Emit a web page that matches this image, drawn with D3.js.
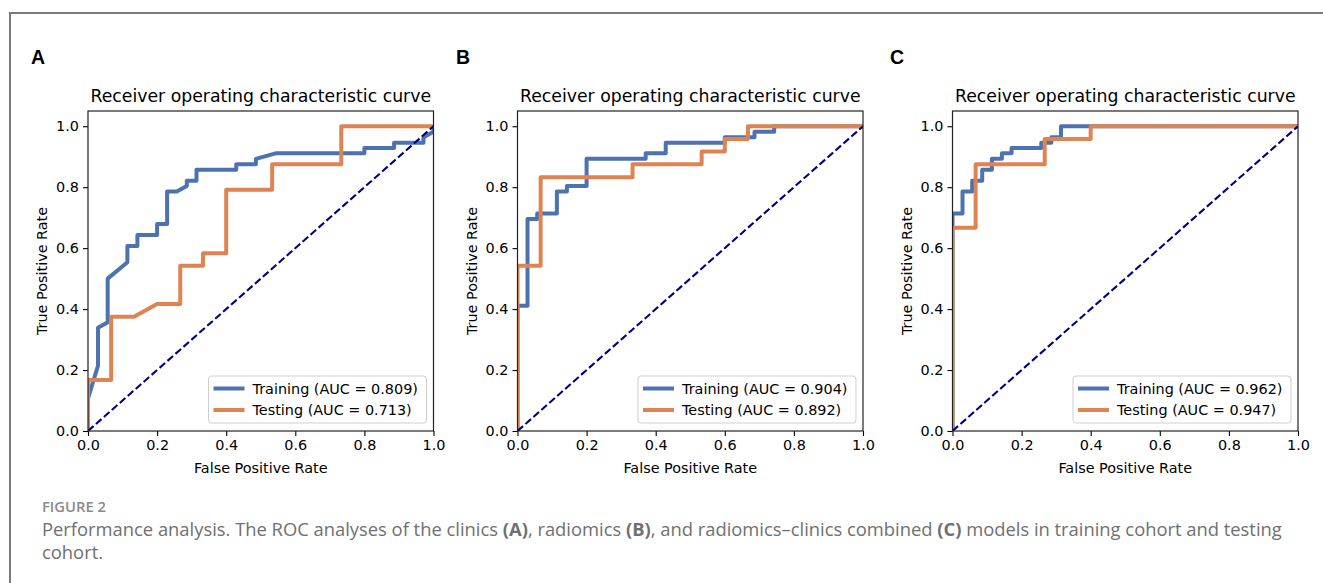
<!DOCTYPE html>
<html>
<head>
<meta charset="utf-8">
<script src="https://cdn.jsdelivr.net/npm/d3@7"></script>
<style>
    body { margin: 0; background: #fff; }
    svg { display: block; }
    .tick text { font-family: "DejaVu Sans", sans-serif; font-size: 14.4px; fill: #000; }
    .tick line { stroke: #000; stroke-width: 1.1px; }
    .domain { display: none; }
</style>
</head>
<body>
<svg id="chart" width="1323" height="583"></svg>
<script>
// ROC points, [fpr, tpr]
const trainA = [[0, 0], [0, 0.107], [0.029, 0.214], [0.029, 0.339], [0.057, 0.357], [0.057, 0.5],
    [0.114, 0.554], [0.114, 0.607], [0.143, 0.607], [0.143, 0.643], [0.2, 0.643], [0.2, 0.679],
    [0.229, 0.679], [0.229, 0.786], [0.257, 0.786], [0.286, 0.804], [0.286, 0.821], [0.314, 0.821],
    [0.314, 0.857], [0.429, 0.857], [0.429, 0.875], [0.486, 0.875], [0.486, 0.893], [0.543, 0.911],
    [0.8, 0.911], [0.8, 0.929], [0.886, 0.929], [0.886, 0.946], [0.971, 0.946], [0.971, 0.964],
    [1, 0.982], [1, 1]];
const testA = [[0, 0], [0, 0.167], [0.067, 0.167], [0.067, 0.375], [0.133, 0.375], [0.2, 0.417],
    [0.267, 0.417], [0.267, 0.542], [0.333, 0.542], [0.333, 0.583], [0.4, 0.583], [0.4, 0.792],
    [0.533, 0.792], [0.533, 0.875], [0.733, 0.875], [0.733, 1], [1, 1]];

const trainB = [[0, 0], [0, 0.411], [0.029, 0.411], [0.029, 0.696], [0.057, 0.696], [0.057, 0.714],
    [0.114, 0.714], [0.114, 0.786], [0.143, 0.786], [0.143, 0.804], [0.2, 0.804], [0.2, 0.893],
    [0.371, 0.893], [0.371, 0.911], [0.429, 0.911], [0.429, 0.946], [0.6, 0.946], [0.6, 0.964],
    [0.686, 0.964], [0.686, 0.982], [0.743, 0.982], [0.743, 1], [1, 1]];
const testB = [[0, 0], [0, 0.542], [0.067, 0.542], [0.067, 0.833], [0.333, 0.833], [0.333, 0.875],
    [0.533, 0.875], [0.533, 0.917], [0.6, 0.917], [0.6, 0.958], [0.667, 0.958], [0.667, 1], [1, 1]];

const trainC = [[0, 0], [0, 0.714], [0.029, 0.714], [0.029, 0.786], [0.057, 0.786], [0.057, 0.821],
    [0.086, 0.821], [0.086, 0.857], [0.114, 0.857], [0.114, 0.893], [0.143, 0.893], [0.143, 0.911],
    [0.171, 0.911], [0.171, 0.929], [0.257, 0.929], [0.257, 0.946], [0.286, 0.946], [0.286, 0.964],
    [0.314, 0.964], [0.314, 1], [1, 1]];
const testC = [[0, 0], [0, 0.667], [0.067, 0.667], [0.067, 0.875], [0.267, 0.875], [0.267, 0.958],
    [0.4, 0.958], [0.4, 1], [1, 1]];

const panelLetters = ["A", "B", "C"];
const aucTrain = ["0.809", "0.904", "0.962"];
const aucTest = ["0.713", "0.892", "0.947"];
const tickValues = [0, 0.2, 0.4, 0.6, 0.8, 1.0];

const panels = [
    { letter: panelLetters[0], train: trainA, test: testA, aucTrain: aucTrain[0], aucTest: aucTest[0], left: 88, letterX: 31 },
    { letter: panelLetters[1], train: trainB, test: testB, aucTrain: aucTrain[1], aucTest: aucTest[1], left: 517.5, letterX: 456 },
    { letter: panelLetters[2], train: trainC, test: testC, aucTrain: aucTrain[2], aucTest: aucTest[2], left: 952.5, letterX: 890 }
];

const blue = "#4C72B0";
const orange = "#DD8452";
const plotW = 345.5;
const plotTop = 111, plotBottom = 431;

const svg = d3.select("#chart");

// frame of the figure
svg.append("path")
    .attr("d", "M10,583 L10,13 L1323,13")
    .attr("fill", "none")
    .attr("stroke", "#7a7a7a")
    .attr("stroke-width", 2);

panels.forEach((p, i) => {
    const x = d3.scaleLinear().domain([0, 1]).range([p.left, p.left + plotW]);
    const y = d3.scaleLinear().domain([0, 1.05]).range([plotBottom, plotTop]);

    const g = svg.append("g");

    svg.append("text")
        .attr("x", p.letterX)
        .attr("y", 64)
        .style("font-family", "'Liberation Sans', Arial, sans-serif")
        .style("font-weight", "bold")
        .style("font-size", "19.5px")
        .text(p.letter);

    g.append("clipPath").attr("id", "clip" + i)
        .append("rect")
        .attr("x", x(0)).attr("y", plotTop)
        .attr("width", plotW).attr("height", plotBottom - plotTop);

    const plot = g.append("g").attr("clip-path", `url(#clip${i})`);

    const line = d3.line().x(d => x(d[0])).y(d => y(d[1]));

    plot.append("path")
        .datum(p.train)
        .attr("d", line)
        .attr("fill", "none")
        .attr("stroke", blue)
        .attr("stroke-width", 4)
        .attr("stroke-linejoin", "round");

    plot.append("path")
        .datum(p.test)
        .attr("d", line)
        .attr("fill", "none")
        .attr("stroke", orange)
        .attr("stroke-width", 4)
        .attr("stroke-linejoin", "round");

    plot.append("path")
        .datum([[0, 0], [1, 1]])
        .attr("d", line)
        .attr("fill", "none")
        .attr("stroke", "#000080")
        .attr("stroke-width", 2.1)
        .attr("stroke-dasharray", "7.4,3.2");

    // axes
    g.append("g")
        .attr("transform", `translate(0,${plotBottom})`)
        .call(d3.axisBottom(x).tickValues(tickValues).tickFormat(d3.format(".1f")).tickSize(5).tickPadding(4));
    g.append("g")
        .attr("transform", `translate(${x(0)},0)`)
        .call(d3.axisLeft(y).tickValues(tickValues).tickFormat(d3.format(".1f")).tickSize(5).tickPadding(4));

    g.append("rect")
        .attr("x", x(0)).attr("y", plotTop)
        .attr("width", plotW).attr("height", plotBottom - plotTop)
        .attr("fill", "none")
        .attr("stroke", "#222")
        .attr("stroke-width", 1.2);

    g.append("text")
        .attr("x", x(0.5))
        .attr("y", 102)
        .attr("text-anchor", "middle")
        .style("font-family", "'DejaVu Sans', sans-serif")
        .style("font-size", "17.3px")
        .text("Receiver operating characteristic curve");

    g.append("text")
        .attr("x", x(0.5))
        .attr("y", 473)
        .attr("text-anchor", "middle")
        .style("font-family", "'DejaVu Sans', sans-serif")
        .style("font-size", "14.4px")
        .text("False Positive Rate");

    g.append("text")
        .attr("transform", `translate(${x(0) - 41},${(plotTop + plotBottom) / 2}) rotate(-90)`)
        .attr("text-anchor", "middle")
        .style("font-family", "'DejaVu Sans', sans-serif")
        .style("font-size", "14.4px")
        .text("True Positive Rate");

    // legend
    const lx = x(1) - 225, ly = plotBottom - 55;
    const legend = g.append("g").attr("transform", `translate(${lx},${ly})`);
    legend.append("rect")
        .attr("width", 218).attr("height", 47)
        .attr("rx", 3)
        .attr("fill", "rgba(255,255,255,0.8)")
        .attr("stroke", "#cfcfcf")
        .attr("stroke-width", 1);
    const rows = [
        { color: blue, label: `Training (AUC = ${p.aucTrain})` },
        { color: orange, label: `Testing (AUC = ${p.aucTest})` }
    ];
    rows.forEach((r, k) => {
        const cy = 12.5 + k * 21.5;
        legend.append("line")
            .attr("x1", 5).attr("x2", 36)
            .attr("y1", cy).attr("y2", cy)
            .attr("stroke", r.color)
            .attr("stroke-width", 4);
        legend.append("text")
            .attr("x", 44).attr("y", cy + 5.2)
            .style("font-family", "'DejaVu Sans', sans-serif")
            .style("font-size", "14.4px")
            .text(r.label);
    });
});

// caption, font size fitted to the width it has in the reference
function fitWidth(sel, base, target) {
    const w = sel.node().getComputedTextLength();
    sel.style("font-size", (base * target / w).toFixed(2) + "px");
}

const figLabel = svg.append("text")
    .attr("x", 42).attr("y", 512)
    .style("font-family", "'Open Sans', sans-serif")
    .style("font-weight", "600")
    .style("font-size", "15px")
    .attr("fill", "#8a8a8a")
    .text("FIGURE 2");
fitWidth(figLabel, 15, 64);

const cap1 = svg.append("text")
    .attr("x", 42).attr("y", 536)
    .style("font-family", "'Open Sans', sans-serif")
    .style("font-size", "18px")
    .attr("fill", "#707070");
const parts = [
    ["Performance analysis. The ROC analyses of the clinics ", false], ["(A)", true],
    [", radiomics ", false], ["(B)", true],
    [", and radiomics\u2013clinics combined ", false], ["(C)", true],
    [" models in training cohort and testing", false]
];
parts.forEach(([t, b]) => {
    cap1.append("tspan").style("font-weight", b ? "bold" : "normal").text(t);
});
fitWidth(cap1, 18, 1240);

svg.append("text")
    .attr("x", 42).attr("y", 559)
    .style("font-family", "'Open Sans', sans-serif")
    .style("font-size", cap1.style("font-size"))
    .attr("fill", "#707070")
    .text("cohort.");
</script>
</body>
</html>
